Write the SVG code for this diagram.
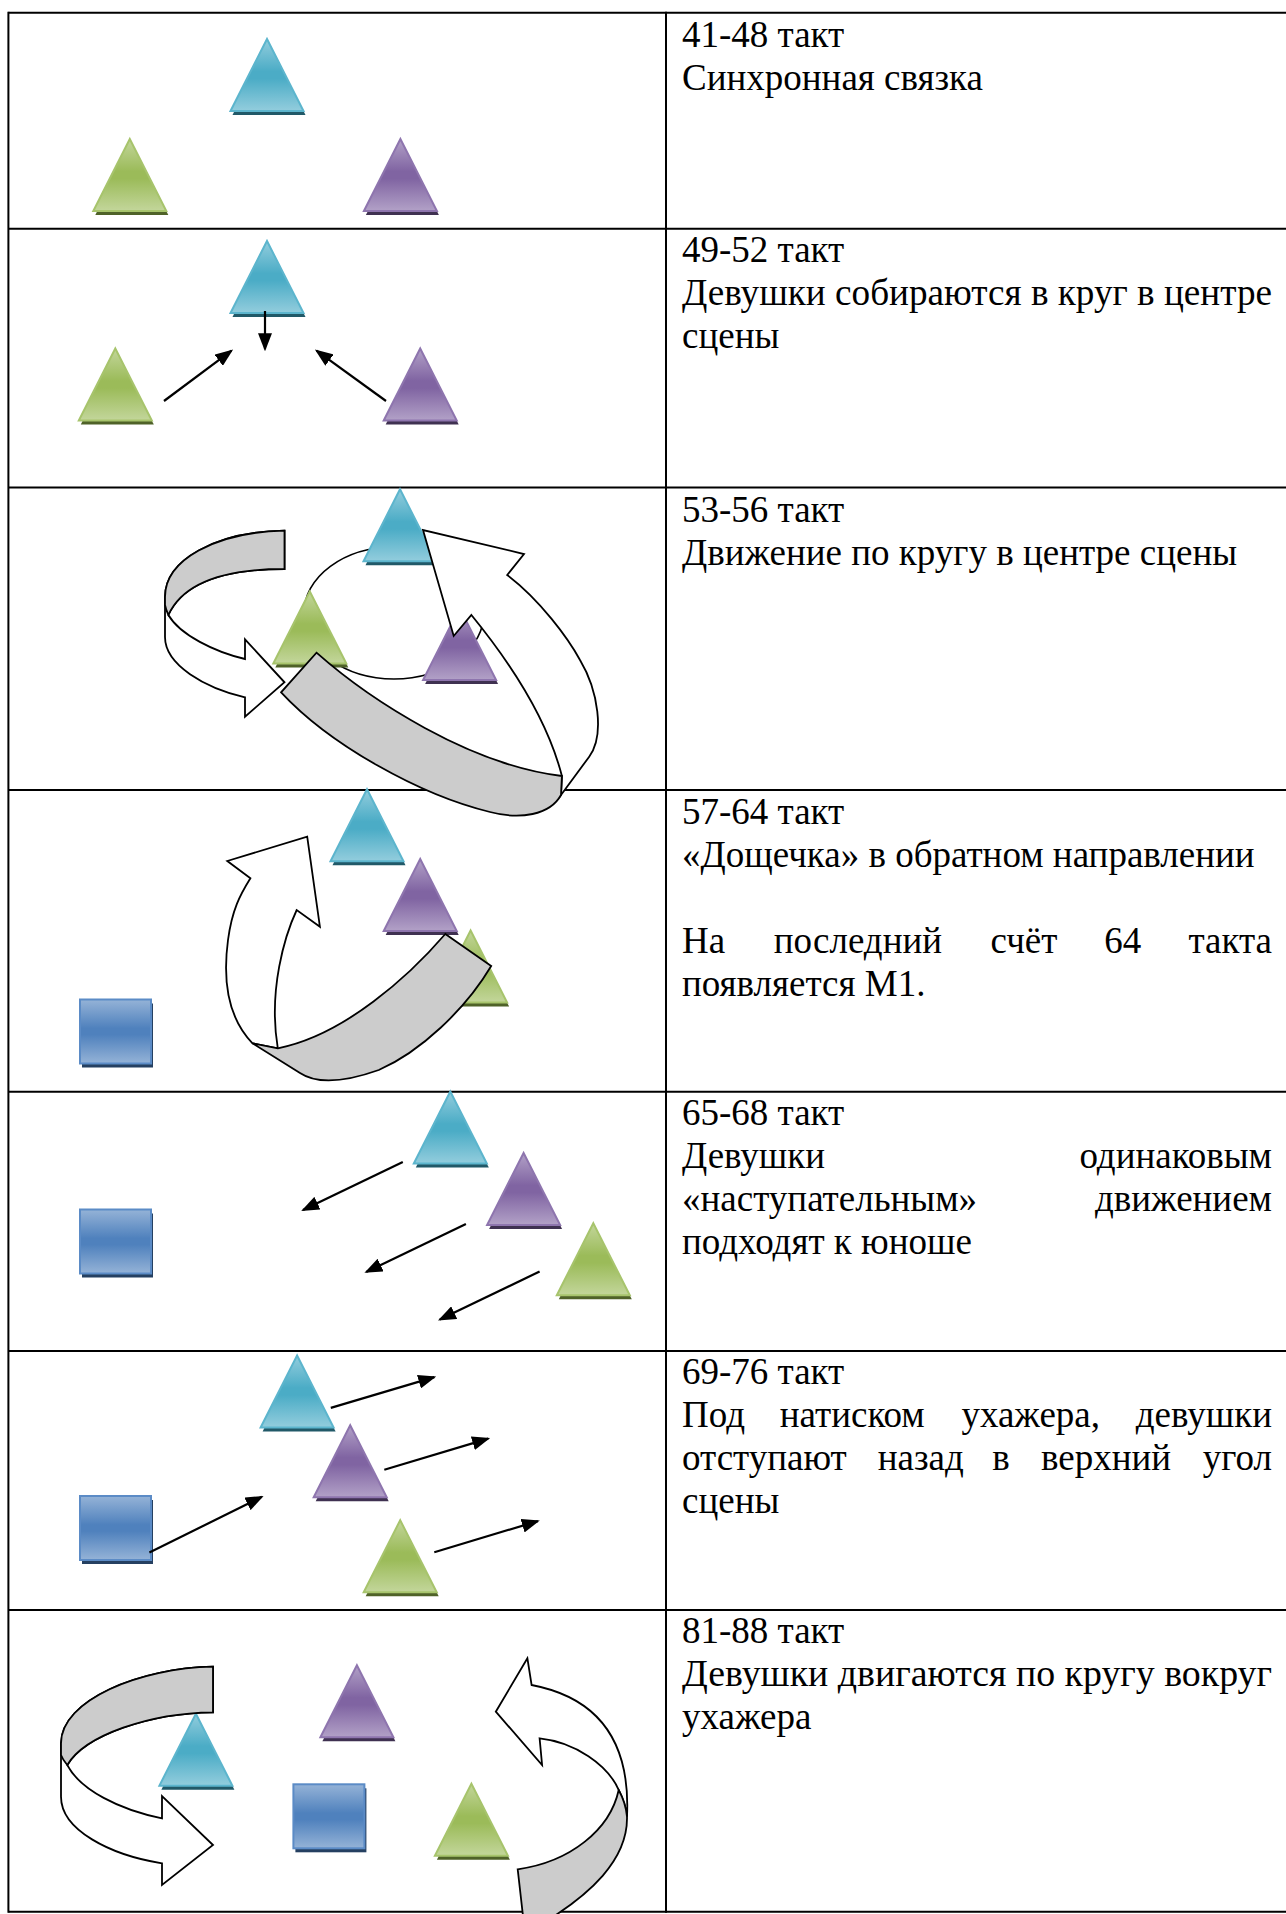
<svg xmlns="http://www.w3.org/2000/svg" xmlns:xlink="http://www.w3.org/1999/xlink" width="1286" height="1914" viewBox="0 0 1286 1914">
<style>
.t{font-family:"Liberation Serif","Times New Roman",serif;font-size:37px;fill:#000}
.grid{stroke:#000;stroke-width:2;fill:none}
.rib{stroke:#000;stroke-width:1.8;stroke-linejoin:miter}
.back{fill:#CCCCCC}
.front{fill:#FFFFFF}
.arr{stroke:#000;stroke-width:2.2;fill:none;marker-end:url(#ah)}
.orbit{fill:none;stroke:#000;stroke-width:1.6}
</style>
<defs>
<marker id="ah" markerUnits="userSpaceOnUse" markerWidth="18" markerHeight="14" viewBox="0 0 18 14" refX="16" refY="7" orient="auto"><path d="M0,0 L18,7 L0,14 Z" fill="#000"/></marker>
<linearGradient id="gC" x1="0" y1="0" x2="0" y2="1"><stop offset="0" stop-color="#93CDDD"/><stop offset="0.45" stop-color="#4BACC6"/><stop offset="0.55" stop-color="#4BACC6"/><stop offset="1" stop-color="#93CDDD"/></linearGradient>
<linearGradient id="gG" x1="0" y1="0" x2="0" y2="1"><stop offset="0" stop-color="#C3D69B"/><stop offset="0.45" stop-color="#9BBB59"/><stop offset="0.55" stop-color="#9BBB59"/><stop offset="1" stop-color="#C3D69B"/></linearGradient>
<linearGradient id="gP" x1="0" y1="0" x2="0" y2="1"><stop offset="0" stop-color="#B2A1C7"/><stop offset="0.45" stop-color="#8064A2"/><stop offset="0.55" stop-color="#8064A2"/><stop offset="1" stop-color="#B2A1C7"/></linearGradient>
<linearGradient id="gB" x1="0" y1="0" x2="0" y2="1"><stop offset="0" stop-color="#95B3D7"/><stop offset="0.45" stop-color="#4F81BD"/><stop offset="0.55" stop-color="#4F81BD"/><stop offset="1" stop-color="#95B3D7"/></linearGradient>
<path id="tri" d="M0,0 L36.5,72 L-36.5,72 Z"/>
<rect id="sq" x="0" y="0" width="71" height="64"/>
<g id="triC"><use xlink:href="#tri" transform="translate(2,4)" fill="#215968"/><use xlink:href="#tri" fill="url(#gC)" stroke="#5CB5CD" stroke-width="2"/></g>
<g id="triG"><use xlink:href="#tri" transform="translate(2,4)" fill="#4F6228"/><use xlink:href="#tri" fill="url(#gG)" stroke="#A7C46C" stroke-width="2"/></g>
<g id="triP"><use xlink:href="#tri" transform="translate(2,4)" fill="#3F3151"/><use xlink:href="#tri" fill="url(#gP)" stroke="#8E75AE" stroke-width="2"/></g>
<g id="sqB"><use xlink:href="#sq" transform="translate(2,4)" fill="#254061"/><use xlink:href="#sq" fill="url(#gB)" stroke="#5B8BC6" stroke-width="2"/></g>
</defs>
<rect width="1286" height="1914" fill="#fff"/>

<g id="table" class="grid">
<line x1="8.4" y1="12.7" x2="1286" y2="12.7"/>
<line x1="8.4" y1="228.7" x2="1286" y2="228.7"/>
<line x1="8.4" y1="487.5" x2="1286" y2="487.5"/>
<line x1="8.4" y1="790" x2="1286" y2="790"/>
<line x1="8.4" y1="1091.7" x2="1286" y2="1091.7"/>
<line x1="8.4" y1="1351" x2="1286" y2="1351"/>
<line x1="8.4" y1="1610" x2="1286" y2="1610"/>
<line x1="8.4" y1="1911.7" x2="1286" y2="1911.7"/>
<line x1="8.4" y1="11.7" x2="8.4" y2="1912.7"/>
<line x1="666" y1="11.7" x2="666" y2="1912.7"/>
</g>

<g id="texts">
<g id="text-r1"><text class="t" x="682" y="46.7">41-48 такт</text><text class="t" x="682" y="89.5">Синхронная связка</text></g>
<g id="text-r2"><text class="t" x="682" y="262">49-52 такт</text>
<text class="t" x="682" y="305" textLength="590" lengthAdjust="spacingAndGlyphs">Девушки собираются в круг в центре</text>
<text class="t" x="682" y="348">сцены</text></g>
<g id="text-r3"><text class="t" x="682" y="522">53-56 такт</text><text class="t" x="682" y="565">Движение по кругу в центре сцены</text></g>
<g id="text-r4"><text class="t" x="682" y="824">57-64 такт</text><text class="t" x="682" y="867">«Дощечка» в обратном направлении</text>
<text class="t" y="953"><tspan x="682">На</tspan><tspan x="773.8">последний</tspan><tspan x="990.5">счёт</tspan><tspan x="1104.3">64</tspan></text><text class="t" x="1272" y="953" text-anchor="end">такта</text>
<text class="t" x="682" y="996">появляется М1.</text></g>
<g id="text-r5"><text class="t" x="682" y="1125">65-68 такт</text>
<text class="t" x="682" y="1168">Девушки</text><text class="t" x="1272" y="1168" text-anchor="end">одинаковым</text>
<text class="t" x="682" y="1211">«наступательным»</text><text class="t" x="1272" y="1211" text-anchor="end">движением</text>
<text class="t" x="682" y="1254">подходят к юноше</text></g>
<g id="text-r6"><text class="t" x="682" y="1384">69-76 такт</text>
<text class="t" y="1427"><tspan x="682">Под</tspan><tspan x="779.8">натиском</tspan><tspan x="961.4">ухажера,</tspan></text><text class="t" x="1272" y="1427" text-anchor="end">девушки</text>
<text class="t" y="1470"><tspan x="682">отступают</tspan><tspan x="877.7">назад</tspan><tspan x="992.3">в</tspan><tspan x="1041">верхний</tspan></text><text class="t" x="1272" y="1470" text-anchor="end">угол</text>
<text class="t" x="682" y="1513">сцены</text></g>
<g id="text-r7"><text class="t" x="682" y="1643">81-88 такт</text>
<text class="t" x="682" y="1686" textLength="590" lengthAdjust="spacingAndGlyphs">Девушки двигаются по кругу вокруг</text>
<text class="t" x="682" y="1729">ухажера</text></g>
</g>

<g id="orbit-r3"><ellipse class="orbit" cx="394" cy="613" rx="90" ry="66"/></g>

<g id="nodes">
<g id="r1-cyan" transform="translate(267,39)"><use xlink:href="#triC"/></g>
<g id="r1-green" transform="translate(129.8,139)"><use xlink:href="#triG"/></g>
<g id="r1-purple" transform="translate(400.4,139)"><use xlink:href="#triP"/></g>
<g id="r2-cyan" transform="translate(267,241)"><use xlink:href="#triC"/></g>
<g id="r2-green" transform="translate(115.3,348.5)"><use xlink:href="#triG"/></g>
<g id="r2-purple" transform="translate(420.2,348.5)"><use xlink:href="#triP"/></g>
<g id="r3-cyan" transform="translate(400,489.3)"><use xlink:href="#triC"/></g>
<g id="r3-green" transform="translate(309.8,591.5)"><use xlink:href="#triG"/></g>
<g id="r3-purple" transform="translate(459.6,608)"><use xlink:href="#triP"/></g>
<g id="r4-cyan" transform="translate(367,789.3)"><use xlink:href="#triC"/></g>
<g id="r4-purple" transform="translate(420.2,859)"><use xlink:href="#triP"/></g>
<g id="r4-green" transform="translate(470.6,930.5)"><use xlink:href="#triG"/></g>
<g id="r4-square" transform="translate(80,999.5)"><use xlink:href="#sqB"/></g>
<g id="r5-cyan" transform="translate(450.3,1091.5)"><use xlink:href="#triC"/></g>
<g id="r5-purple" transform="translate(523.6,1153)"><use xlink:href="#triP"/></g>
<g id="r5-green" transform="translate(593.3,1223.3)"><use xlink:href="#triG"/></g>
<g id="r5-square" transform="translate(80,1209.5)"><use xlink:href="#sqB"/></g>
<g id="r6-cyan" transform="translate(297.1,1355.5)"><use xlink:href="#triC"/></g>
<g id="r6-purple" transform="translate(350.2,1425.2)"><use xlink:href="#triP"/></g>
<g id="r6-green" transform="translate(400.2,1520.2)"><use xlink:href="#triG"/></g>
<g id="r6-square" transform="translate(80,1496)"><use xlink:href="#sqB"/></g>
<g id="r7-purple" transform="translate(356.9,1665.3)"><use xlink:href="#triP"/></g>
<g id="r7-cyan" transform="translate(195.9,1713.7)"><use xlink:href="#triC"/></g>
<g id="r7-green" transform="translate(471.4,1783.7)"><use xlink:href="#triG"/></g>
<g id="r7-square" transform="translate(293.4,1784.3)"><use xlink:href="#sqB"/></g>
</g>

<g id="connectors">
<g id="r2-arrows">
<line class="arr" x1="265" y1="311" x2="265" y2="349.3"/>
<line class="arr" x1="164" y1="401" x2="231.5" y2="350.7"/>
<line class="arr" x1="386" y1="401" x2="316.5" y2="350.7"/>
</g>
<g id="r3-ribbon-left">
<path class="rib front" d="M284.5,530.7 C215,532 165,560 165,597 L165,637 C165,665 205,688 245,697.3 L245,716.7 L284.5,682.3 L245,639.3 L245,659 C215,652 180,635 168.4,615 C183,583 225,569 284.5,569 Z"/>
<path class="rib back" d="M284.5,530.7 C215,532 165,560 165,597 L165,605 C166,610 167,612 168.4,615 C183,583 225,569 284.5,569 Z"/>
</g>
<g id="r3-ribbon-big">
<path class="rib front" d="M561,795 L589.2,756.7 C605,735 598,690 580,660 C568,638 540,600 507.2,575 L524,554 L423,530 L453.7,636 L471.4,615 C500,650 545,710 561.9,776 Z"/>
<path class="rib back" d="M316.5,652.7 C370,700 470,765 561.9,776 L561,795 C550,815 520,820 490,812 C420,795 330,745 281.1,692.3 Z"/>
</g>
<g id="r4-ribbon">
<path class="rib front" d="M252.5,1043.3 C230,1020 222,985 228,940 C232,910 240,895 250.4,878.3 L227.3,861 L307.2,836.7 L319.9,926.7 L296.7,910 C285,935 268,990 277.8,1048.3 Z"/>
<path class="rib back" d="M445.3,934 C410,975 345,1035 277.8,1048.3 L252.5,1043.3 L300,1073 C318,1085 345,1082 378.8,1070 C420,1052 465,1010 491.2,966 Z"/>
</g>
<g id="r5-arrows">
<line class="arr" x1="402.8" y1="1162.1" x2="303" y2="1210.1"/>
<line class="arr" x1="465.9" y1="1224" x2="366.2" y2="1272"/>
<line class="arr" x1="539.6" y1="1271.6" x2="439.8" y2="1319.6"/>
</g>
<g id="r6-arrows">
<line class="arr" x1="330.8" y1="1407.9" x2="434.3" y2="1377.1"/>
<line class="arr" x1="384.3" y1="1469.7" x2="488.2" y2="1438.6"/>
<line class="arr" x1="434.3" y1="1552.2" x2="537.9" y2="1521.1"/>
<line class="arr" x1="149.4" y1="1552.6" x2="261.8" y2="1496.8"/>
</g>
<g id="r7-ribbon-left">
<path class="rib front" d="M213,1666.7 C140,1668 61,1700 61,1743.3 L61,1796.7 C61,1830 110,1855 162,1863.3 L162,1885 L213,1845 L162,1796 L162,1818.3 C120,1810 80,1790 67.3,1765 C85,1735 150,1713 213,1712.3 Z"/>
<path class="rib back" d="M213,1666.7 C140,1668 61,1700 61,1743.3 L61,1755 C63,1760 65,1762 67.3,1765 C85,1735 150,1713 213,1712.3 Z"/>
</g>
<g id="r7-ribbon-right">
<path class="rib front" d="M527.4,1658.3 L495.8,1711.7 L542.1,1765 L539.6,1738.3 C575,1742 608,1765 618.7,1790 C622,1797 626,1805 627,1816.7 C630,1755 610,1700 531.6,1685 Z"/>
<path class="rib back" d="M618.7,1790 C610,1830 570,1862 517.7,1869.3 L524,1925 L540,1925 C590,1895 628,1860 627,1816.7 C626,1805 622,1796 618.7,1790 Z"/>
</g>
</g>
</svg>
